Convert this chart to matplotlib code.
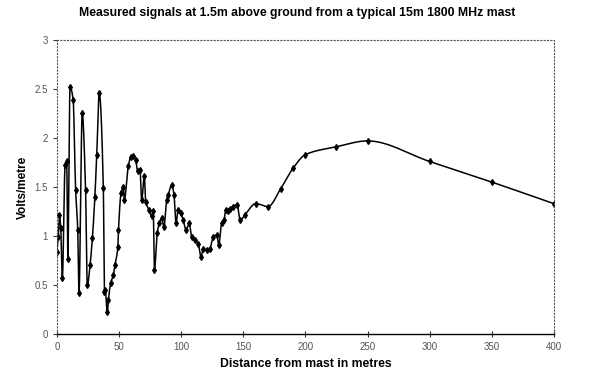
import numpy as np
import matplotlib
matplotlib.use("Agg")
import matplotlib.pyplot as plt

# distance from mast (m) and measured field strength (V/m)
distance = [0, 1, 2, 3, 4.3, 6.5, 7.8, 8.7, 10.5, 13,
            15, 16.7, 17.7, 20.3, 23, 24.4, 26.6, 28.5, 30.5, 32,
            34, 37.3, 38.2, 38.8, 40.5, 41.4, 43.2, 45.3, 46.6, 49,
            49.5, 51.6, 53.4, 54.2, 57.4, 59.5, 61.5, 63.3, 64.9, 66.8,
            68.2, 70.3, 71.4, 74, 76.2, 77.5, 78.4, 80.7, 82.3, 84.3,
            86.1, 88.3, 89.6, 92.3, 94.2, 95.8, 97.6, 99.6, 101.7, 103.9,
            106.5, 108.4, 111, 113.7, 115.9, 117.8, 120.4, 123, 125.8, 128.6,
            130.3, 132.5, 134.4, 136, 137.9, 139.4, 141.5, 145, 147.5, 151,
            160, 170, 180, 190, 200, 225, 250, 300, 350, 400]
volts = [0.84, 0.99, 1.21, 1.08, 0.57, 1.72, 1.76, 0.77, 2.52, 2.39,
         1.47, 1.06, 0.42, 2.25, 1.47, 0.50, 0.70, 0.98, 1.40, 1.83,
         2.46, 1.49, 0.43, 0.45, 0.22, 0.35, 0.52, 0.60, 0.70, 0.89,
         1.06, 1.44, 1.50, 1.37, 1.71, 1.81, 1.82, 1.78, 1.66, 1.67,
         1.37, 1.61, 1.35, 1.27, 1.20, 1.25, 0.65, 1.03, 1.13, 1.18,
         1.09, 1.37, 1.42, 1.52, 1.42, 1.13, 1.27, 1.23, 1.16, 1.06,
         1.13, 0.99, 0.96, 0.92, 0.79, 0.87, 0.86, 0.87, 0.99, 1.01,
         0.91, 1.13, 1.16, 1.27, 1.25, 1.28, 1.30, 1.32, 1.16, 1.21,
         1.33, 1.30, 1.48, 1.69, 1.83, 1.91, 1.97, 1.76, 1.55, 1.33]

x_ticks = [0, 50, 100, 150, 200, 250, 300, 350, 400]
y_ticks = [0, 0.5, 1, 1.5, 2, 2.5, 3]
y_tick_labels = ["0", "0.5", "1", "1.5", "2", "2.5", "3"]


def smooth_line(xs, ys, steps=16):
    # shape-preserving cubic through the points (smoothed line without overshoot)
    x = np.array(xs, dtype=float)
    y = np.array(ys, dtype=float)
    h = np.diff(x)
    d = np.diff(y) / h
    m = np.zeros_like(y)
    for i in range(1, len(x) - 1):
        if d[i - 1] * d[i] > 0:
            w1 = 2 * h[i] + h[i - 1]
            w2 = h[i] + 2 * h[i - 1]
            m[i] = (w1 + w2) / (w1 / d[i - 1] + w2 / d[i])
    m[0] = d[0]
    m[-1] = d[-1]
    t = np.linspace(0, 1, steps, endpoint=False)
    h00 = 2 * t ** 3 - 3 * t ** 2 + 1
    h10 = t ** 3 - 2 * t ** 2 + t
    h01 = -2 * t ** 3 + 3 * t ** 2
    h11 = t ** 3 - t ** 2
    cx, cy = [], []
    for i in range(len(x) - 1):
        cx.extend(x[i] + t * h[i])
        cy.extend(h00 * y[i] + h10 * h[i] * m[i] + h01 * y[i + 1] + h11 * h[i] * m[i + 1])
    cx.append(x[-1])
    cy.append(y[-1])
    return cx, cy


plt.rcParams['font.family'] = ['Liberation Sans', 'DejaVu Sans']

fig = plt.figure(figsize=(6, 3.78), dpi=100)
ax = fig.add_axes([0.095, 0.1164, 0.828, 0.778])

sx, sy = smooth_line(distance, volts)
ax.plot(sx, sy, color='black', linewidth=1.1)
ax.plot(distance, volts, linestyle='none', marker='d', markersize=3,
        color='black')

ax.set_xlim(0, 400)
ax.set_ylim(0, 3)
ax.set_xticks(x_ticks)
ax.set_xticklabels([str(v) for v in x_ticks])
ax.set_yticks(y_ticks)
ax.set_yticklabels(y_tick_labels)
ax.tick_params(axis='both', labelsize=7, labelcolor='#555555', color='#333333')
ax.tick_params(axis='x', direction='inout', length=5)
ax.tick_params(axis='y', direction='out', length=3)

for side in ['top', 'right', 'left']:
    ax.spines[side].set_linestyle((0, (1, 2)))
    ax.spines[side].set_color('#555555')
    ax.spines[side].set_linewidth(0.8)
ax.spines['bottom'].set_color('black')
ax.spines['bottom'].set_linewidth(1.0)

ax.set_xlabel("Distance from mast in metres", fontsize=8.8, fontweight='bold')
ax.set_ylabel("Volts/metre", fontsize=8.5, fontweight='bold')
fig.suptitle("Measured signals at 1.5m above ground from a typical 15m 1800 MHz mast",
             fontsize=8.8, fontweight='bold', x=0.495, y=0.982)

fig.savefig("out.png", dpi=100)
